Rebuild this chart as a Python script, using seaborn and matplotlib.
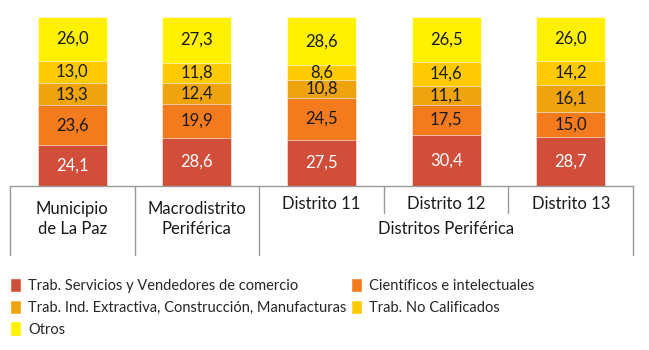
import numpy as np
import pandas as pd
import seaborn as sns
import matplotlib.pyplot as plt
from matplotlib.patches import Patch

# datos (porcentajes)
grupos = ['Municipio\nde La Paz', 'Macrodistrito\nPeriférica', 'Distrito 11', 'Distrito 12', 'Distrito 13']
categorias = ['Trab. Servicios y Vendedores de comercio', 'Científicos e intelectuales',
              'Trab. Ind. Extractiva, Construcción, Manufacturas', 'Trab. No Calificados', 'Otros']
servicios = [24.1, 28.6, 27.5, 30.4, 28.7]
cientificos = [23.6, 19.9, 24.5, 17.5, 15.0]
industria = [13.3, 12.4, 10.8, 11.1, 16.1]
no_calificados = [13.0, 11.8, 8.6, 14.6, 14.2]
otros = [26.0, 27.3, 28.6, 26.5, 26.0]
colores = ['#D04E3A', '#F47A1E', '#EFA30E', '#FFCB00', '#FFF100']

sns.set_style('white')
plt.rcParams['font.family'] = ['Lato', 'DejaVu Sans']

series = [servicios, cientificos, industria, no_calificados, otros]
acum = np.cumsum(np.array(series), axis=0)

fig = plt.figure(figsize=(6.49, 3.5), dpi=100)
ax = fig.add_axes([10 / 649, 164 / 350, 623 / 649, 169 / 350])

# barras apiladas: se dibuja de arriba hacia abajo
for i in range(len(series) - 1, -1, -1):
    df = pd.DataFrame({'grupo': grupos, 'valor': acum[i]})
    sns.barplot(data=df, x='grupo', y='valor', color=colores[i], width=0.555,
                saturation=1, edgecolor='white', linewidth=0.4, ax=ax)

for i, vals in enumerate(series):
    base = acum[i] - np.array(vals)
    for j, v in enumerate(vals):
        ax.text(j, base[j] + v / 2, f'{v:.1f}'.replace('.', ','), ha='center', va='center',
                fontsize=12, color='white' if i == 0 else '#1a1a1a')

ax.set_xlim(-0.5, 4.5)
ax.set_ylim(0, 100)
ax.set_xlabel('')
ax.set_ylabel('')
ax.set_yticks([])
ax.set_xticks([])
for s in ['top', 'left', 'right']:
    ax.spines[s].set_visible(False)
ax.spines['bottom'].set_color('#9a9a9a')
ax.spines['bottom'].set_linewidth(1)

# separadores del eje
trans = ax.get_xaxis_transform()
for x, y0 in [(-0.5, -0.41), (0.5, -0.41), (1.5, -0.41), (2.5, -0.16), (3.5, -0.16), (4.5, -0.41)]:
    ax.plot([x, x], [0, y0], color='#9a9a9a', lw=1, transform=trans, clip_on=False)

for j, g in enumerate(grupos):
    if '\n' in g:
        ax.text(j, -0.195, g, ha='center', va='center', fontsize=12, transform=trans,
                linespacing=1.25, color='#1a1a1a')
    else:
        ax.text(j, -0.105, g, ha='center', va='center', fontsize=12, transform=trans, color='#1a1a1a')
ax.text(3, -0.255, 'Distritos Periférica', ha='center', va='center', fontsize=12,
        transform=trans, color='#1a1a1a')

orden = [0, 2, 4, 1, 3]
handles = [Patch(facecolor=colores[k], label=categorias[k]) for k in orden]
fig.legend(handles=handles, loc='upper left', bbox_to_anchor=(10 / 649, 1 - 278 / 350), ncol=2,
           frameon=False, fontsize=10.5, handlelength=0.75, handleheight=1.15, handletextpad=0.5,
           columnspacing=0.3, labelspacing=0.45, borderaxespad=0, borderpad=0)

fig.savefig('out.png', dpi=100)
